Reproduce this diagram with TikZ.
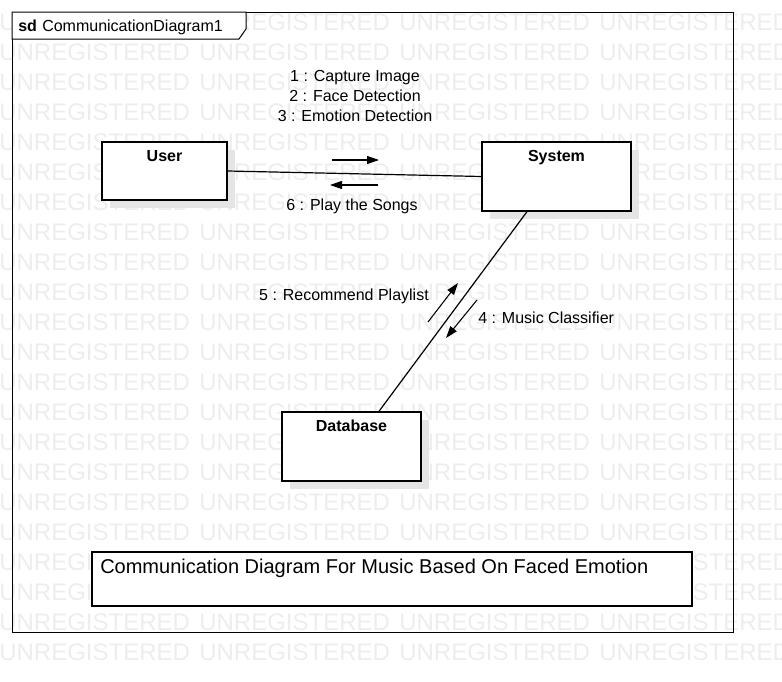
\documentclass[tikz,border=0pt]{standalone}
\usepackage{fontspec}
\setmainfont{Liberation Sans}
\usetikzlibrary{arrows.meta,positioning,shadows}

\begin{document}
\begin{tikzpicture}[
x=0.75pt, y=-0.75pt,
every node/.style={font=\fontsize{12}{15}\selectfont},
object/.style={
draw,
fill=white,
line width=0.8pt,
drop shadow={shadow xshift=6pt, shadow yshift=-6pt, fill=black!10, opacity=1}
},
objname/.style={anchor=north, inner sep=0pt, yshift=-6.5pt, font=\fontsize{12}{15}\selectfont\bfseries},
msglabel/.style={inner sep=0pt},
link/.style={line width=0.9pt},
msg/.style={-{Triangle[length=9pt,width=6pt]}, line width=0.8pt},
watermark/.style={anchor=west, inner sep=0pt, text=black!7, font=\fontsize{18}{18}\selectfont}
]

\useasboundingbox (0,0) rectangle (782,682);

% Watermark rows
\begin{scope}
\clip (0,0) rectangle (782,682);
\foreach \row in {0,...,21} {
  \foreach \col in {0,...,3} {
    \node[watermark] (wm-\row-\col) at (200*\col-1, 22+30*\row) {UNREGISTERED};
  }
}
\end{scope}

% Frame and header tab
\draw[line width=0.75pt] (12,12) rectangle (733,632);
\draw[line width=0.75pt, fill=white] (12,12) -- (246,12) -- (246,29) -- (239,39) -- (12,39) -- cycle;
\node[anchor=base west, inner sep=0pt] (frame-title) at (18,31) {\textbf{sd}\hspace{4pt}CommunicationDiagram1};

% Objects
\node[object, minimum width=93.75pt, minimum height=43.5pt] (user) at (164.5,171) {};
\node[objname] (user-name) at (user.north) {User};

\node[object, minimum width=111.75pt, minimum height=51.75pt] (system) at (556.5,176.5) {};
\node[objname] (system-name) at (system.north) {System};

\node[object, minimum width=104.25pt, minimum height=51.75pt] (database) at (351.5,446.5) {};
\node[objname] (database-name) at (database.north) {Database};

% Links
\draw[link] (user.east) -- (system.west);
\draw[link] (system.230) -- (database.52);

% Messages User -> System and back
\coordinate (m1-s) at (332,160);
\coordinate (m1-e) at (379,160);
\coordinate (m6-s) at (378,185);
\coordinate (m6-e) at (330,185);
\draw[msg] (m1-s) -- (m1-e);
\draw[msg] (m6-s) -- (m6-e);
\node[msglabel, anchor=north, align=center] (m1-label) at (355,70) {1 : Capture Image\\2 : Face Detection\\3 : Emotion Detection};
\node[msglabel, anchor=base] (m6-label) at (352,210) {6 : Play the Songs};

% Messages System <-> Database
\coordinate (m5-s) at (428,322);
\coordinate (m5-e) at (458,283);
\coordinate (m4-s) at (477,300);
\coordinate (m4-e) at (446,338);
\draw[msg] (m5-s) -- (m5-e);
\draw[msg] (m4-s) -- (m4-e);
\node[msglabel, anchor=base east] (m5-label) at (429,300) {5 : Recommend Playlist};
\node[msglabel, anchor=base west] (m4-label) at (478,323) {4 : Music Classifier};

% Caption
\node[draw, fill=white, line width=0.8pt, minimum width=450pt, minimum height=40.5pt] (caption) at (392,579) {};
\node[anchor=base west, inner sep=0pt, font=\fontsize{15}{18}\selectfont] (caption-text) at (100,573) {Communication Diagram For Music Based On Faced Emotion};

\end{tikzpicture}
\end{document}
